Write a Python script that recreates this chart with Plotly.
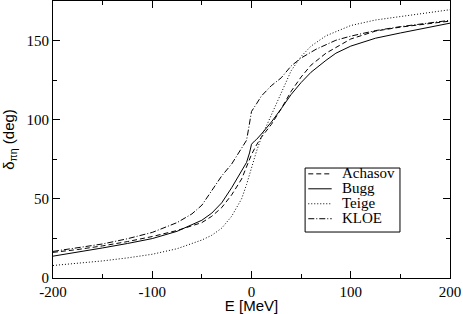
import plotly.graph_objects as go

# Achasov (dashed)
ach_E = [-200, -175, -150, -125, -100, -75, -50, -40, -30, -20, -10, -5, 0, 5, 10, 20, 30, 40, 50, 60, 75, 100, 125, 150, 175, 200]
ach_d = [16.2, 18.0, 20.3, 23.0, 26.2, 30.0, 35.0, 39.0, 44.5, 52.5, 62.5, 70.0, 78.0, 84.0, 89.0, 97.0, 107.0, 118.0, 127.0, 134.5, 142.0, 151.0, 156.0, 158.5, 160.5, 162.3]

# Bugg (solid)
bugg_E = [-200, -175, -150, -125, -100, -75, -50, -40, -30, -20, -10, -5, -2, 0, 3, 5, 10, 20, 30, 40, 50, 60, 75, 85, 100, 125, 150, 175, 200]
bugg_d = [13.8, 16.3, 19.0, 21.8, 24.9, 29.5, 36.5, 41.0, 47.5, 57.0, 67.5, 73.0, 79.0, 84.5, 86.5, 87.5, 91.0, 98.5, 107.0, 116.0, 123.5, 130.0, 137.5, 142.0, 146.5, 151.5, 154.8, 158.0, 161.0]

# Teige (dotted)
teige_E = [-200, -175, -150, -125, -100, -75, -50, -40, -30, -20, -10, -5, 0, 5, 10, 20, 30, 40, 50, 60, 75, 100, 125, 150, 175, 200]
teige_d = [7.9, 9.2, 10.8, 12.7, 15.0, 18.5, 24.0, 27.0, 31.5, 39.0, 50.0, 59.0, 70.0, 80.0, 89.0, 103.0, 118.0, 131.0, 140.0, 146.5, 153.0, 159.5, 163.0, 165.3, 167.5, 169.5]

# KLOE (dash-dot)
kloe_E = [-200, -175, -150, -125, -100, -75, -60, -50, -40, -30, -20, -10, -5, -3, 0, 5, 10, 20, 30, 40, 50, 65, 85, 100, 125, 150, 175, 200]
kloe_d = [16.8, 19.0, 21.5, 24.8, 28.8, 35.0, 40.5, 46.0, 55.0, 64.5, 72.0, 81.5, 87.0, 94.0, 105.2, 110.0, 115.0, 121.5, 126.5, 134.0, 139.0, 144.5, 150.2, 152.8, 156.3, 158.8, 161.0, 162.8]

series_names = ["Achasov", "Bugg", "Teige", "KLOE"]
x_ticks = [-200, -100, 0, 100, 200]
y_ticks = [0, 50, 100, 150]

serif = "Liberation Serif"
sans = "Liberation Sans"

fig = go.Figure()
series = [
    (ach_E, ach_d, "5px,3px"),
    (bugg_E, bugg_d, "solid"),
    (teige_E, teige_d, "1px,2px"),
    (kloe_E, kloe_d, "6px,2px,1px,2px"),
]
for name, (xs, ys, dash) in zip(series_names, series):
    fig.add_trace(go.Scatter(x=xs, y=ys, mode="lines", name=name, showlegend=False,
                             line=dict(color="black", width=1, dash=dash)))

# Custom compact legend (box, line samples, labels) in paper coordinates
leg_x0, leg_x1, leg_y0, leg_y1 = 0.635, 0.874, 0.166, 0.397
row_y = [0.376, 0.322, 0.268, 0.214]
fig.add_shape(type="rect", xref="paper", yref="paper", x0=leg_x0, x1=leg_x1, y0=leg_y0, y1=leg_y1,
              line=dict(color="black", width=1), fillcolor="white", layer="above")
for name, (xs, ys, dash), ry in zip(series_names, series, row_y):
    fig.add_shape(type="line", xref="paper", yref="paper", x0=0.643, x1=0.702, y0=ry, y1=ry,
                  line=dict(color="black", width=1, dash=dash), layer="above")
    fig.add_annotation(xref="paper", yref="paper", x=0.722, y=ry + 0.004, text=name, showarrow=False,
                       xanchor="left", yanchor="middle",
                       font=dict(family=serif, size=15, color="black"))

fig.update_xaxes(range=[-200, 200], tickmode="array", tickvals=x_ticks, ticktext=[str(v) for v in x_ticks],
                 showline=True, linecolor="black", linewidth=1, mirror="allticks",
                 ticks="inside", ticklen=7, tickcolor="black", tickwidth=1,
                 showgrid=False, zeroline=False,
                 tickfont=dict(family=serif, size=15, color="black"),
                 minor=dict(tickvals=[-150, -50, 50, 150], ticklen=4, tickcolor="black", ticks="inside"),
                 title=dict(text="E [MeV]", font=dict(family=sans, size=15, color="black"), standoff=2))
fig.update_yaxes(range=[0, 175], tickmode="array", tickvals=y_ticks, ticktext=[str(v) for v in y_ticks],
                 showline=True, linecolor="black", linewidth=1, mirror="allticks",
                 ticks="inside", ticklen=7, tickcolor="black", tickwidth=1,
                 showgrid=False, zeroline=False,
                 tickfont=dict(family=serif, size=15, color="black"),
                 minor=dict(tickvals=[25, 75, 125], ticklen=4, tickcolor="black", ticks="inside"),
                 title=dict(text="δ<sub>πη</sub> (deg)", font=dict(family=sans, size=15, color="black"), standoff=10))

fig.update_layout(
    template="none",
    font=dict(family=serif, size=15, color="black"),
    width=463, height=314,
    margin=dict(l=53, r=13, t=1, b=36, autoexpand=False),
    paper_bgcolor="white", plot_bgcolor="white",
    showlegend=False,
)

fig.write_html("out.html", config={"displayModeBar": False},
               post_script="document.body.style.margin='0';")
